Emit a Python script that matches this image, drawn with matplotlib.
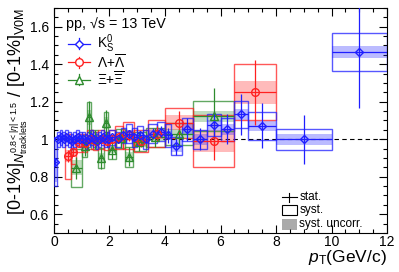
import numpy as np
import matplotlib
matplotlib.use("Agg")
import matplotlib.pyplot as plt
from matplotlib.patches import Rectangle
from matplotlib.ticker import MultipleLocator, FormatStrFormatter

plt.rcParams['font.family'] = ['Liberation Sans', 'DejaVu Sans']
plt.rcParams['mathtext.fontset'] = 'custom'
plt.rcParams['mathtext.rm'] = 'Liberation Sans'
plt.rcParams['mathtext.it'] = 'Liberation Sans:italic'
plt.rcParams['mathtext.bf'] = 'Liberation Sans:bold'

# K0S: bin edges, ratio, stat, syst, uncorrelated syst
k0s_edges = [0.0, 0.1, 0.2, 0.3, 0.4, 0.5, 0.6, 0.7, 0.8, 0.9, 1.0, 1.1, 1.2, 1.3,
             1.4, 1.5, 1.6, 1.7, 1.8, 1.9, 2.0, 2.2, 2.4, 2.6, 2.8, 3.0, 3.2, 3.4,
             3.7, 4.0, 4.2, 4.6, 5.0, 5.5, 6.0, 6.5, 7.0, 8.0, 10.0, 12.0]
k0s_val = [0.88, 1.00, 1.01, 1.00, 1.01, 1.00, 0.99, 1.00, 1.01, 1.00,
           1.00, 0.99, 1.00, 1.01, 1.00, 0.99, 1.00, 1.01, 1.00, 1.00,
           1.01, 1.00, 1.02, 1.03, 1.01, 1.02, 1.00, 1.03, 1.04, 1.02,
           0.964, 1.052, 1.00, 1.075, 1.053, 1.133, 1.071, 1.00, 1.466]
k0s_stat = [0.02, 0.01, 0.01, 0.01, 0.01, 0.01, 0.01, 0.01, 0.01, 0.01,
            0.01, 0.01, 0.01, 0.01, 0.01, 0.01, 0.01, 0.01, 0.01, 0.01,
            0.01, 0.01, 0.02, 0.02, 0.02, 0.02, 0.02, 0.03, 0.03, 0.04,
            0.05, 0.06, 0.06, 0.07, 0.08, 0.11, 0.12, 0.13, 0.30]
k0s_syst = [0.13, 0.04, 0.04, 0.04, 0.04, 0.04, 0.04, 0.04, 0.04, 0.04,
            0.04, 0.04, 0.04, 0.04, 0.04, 0.04, 0.04, 0.04, 0.04, 0.04,
            0.04, 0.04, 0.04, 0.05, 0.05, 0.05, 0.05, 0.05, 0.05, 0.06,
            0.05, 0.06, 0.05, 0.06, 0.06, 0.073, 0.075, 0.057, 0.10]
k0s_unc = [0.11, 0.015, 0.015, 0.015, 0.015, 0.015, 0.015, 0.015, 0.015, 0.015,
           0.015, 0.015, 0.015, 0.015, 0.015, 0.015, 0.015, 0.015, 0.015, 0.015,
           0.015, 0.015, 0.02, 0.02, 0.02, 0.02, 0.02, 0.02, 0.02, 0.025,
           0.03, 0.03, 0.03, 0.03, 0.03, 0.03, 0.027, 0.03, 0.033]

# Lambda + anti-Lambda
lam_edges = [0.4, 0.6, 0.8, 1.0, 1.2, 1.4, 1.6, 1.8, 2.0, 2.2, 2.5, 2.9, 3.4, 4.0, 5.0, 6.5, 8.0]
lam_val = [0.91, 0.93, 0.98, 0.98, 1.00, 0.99, 1.00, 0.99, 1.00, 1.01, 1.02, 0.99, 1.03, 1.089, 0.99, 1.25]
lam_stat = [0.03, 0.02, 0.02, 0.02, 0.02, 0.02, 0.02, 0.02, 0.02, 0.03, 0.03, 0.03, 0.04, 0.06, 0.10, 0.175]
lam_syst = [0.12, 0.06, 0.05, 0.05, 0.05, 0.05, 0.05, 0.05, 0.05, 0.06, 0.07, 0.06, 0.07, 0.08, 0.14, 0.15]
lam_unc = [0.03, 0.02, 0.02, 0.02, 0.02, 0.02, 0.02, 0.02, 0.02, 0.02, 0.03, 0.03, 0.03, 0.04, 0.058, 0.06]

# Xi + anti-Xi
xi_edges = [0.6, 1.0, 1.2, 1.35, 1.6, 1.8, 1.95, 2.25, 2.55, 2.85, 3.3, 4.0, 5.0, 6.5]
xi_val = [0.847, 0.963, 1.116, 1.00, 0.90, 1.087, 0.945, 1.005, 0.906, 0.986, 1.01, 1.027, 1.123]
xi_stat = [0.06, 0.05, 0.09, 0.05, 0.06, 0.07, 0.05, 0.05, 0.05, 0.05, 0.05, 0.06, 0.15]
xi_syst = [0.10, 0.06, 0.08, 0.05, 0.055, 0.06, 0.05, 0.05, 0.055, 0.05, 0.05, 0.06, 0.08]
xi_unc = [0.04, 0.03, 0.04, 0.02, 0.025, 0.03, 0.02, 0.02, 0.025, 0.02, 0.02, 0.025, 0.03]

species = [
    ("xi", xi_edges, xi_val, xi_stat, xi_syst, xi_unc, '#2e8b2e', '^'),
    ("lam", lam_edges, lam_val, lam_stat, lam_syst, lam_unc, '#ff2020', 'o'),
    ("k0s", k0s_edges, k0s_val, k0s_stat, k0s_syst, k0s_unc, '#1f1fff', 'D'),
]
labels = {"k0s": r'$\mathrm{K^0_S}$',
          "lam": r'$\Lambda$+$\overline{\Lambda}$',
          "xi": r'$\Xi$+$\overline{\Xi}$'}

fig = plt.figure(figsize=(3.99, 2.72), dpi=100)
ax = fig.add_axes([0.1353, 0.1434, 0.8347, 0.8272])

ax.axhline(1.0, color='black', linestyle=(0, (4, 3)), linewidth=0.8, zorder=1)

styles = {}
for name, edges, val, stat, syst, unc, col, mk in species:
    edges = np.array(edges)
    val = np.array(val)
    x = 0.5 * (edges[1:] + edges[:-1])
    w = np.diff(edges)
    syst = np.array(syst)
    unc = np.array(unc)
    ax.bar(x, 2 * unc, bottom=val - unc, width=w, color=col, alpha=0.3,
           linewidth=0, zorder=2)
    ax.bar(x, 2 * syst, bottom=val - syst, width=w, fill=False, edgecolor=col,
           alpha=0.75, linewidth=1.0, zorder=3)
    ms = 4.5 if mk == 'D' else 5.5
    ax.errorbar(x, val, yerr=stat, xerr=w / 2, fmt=mk, color=col, mfc='none',
                mec=col, ms=ms, mew=1.0, elinewidth=0.9, capsize=0, zorder=4)
    styles[name] = (col, mk, ms)

ax.set_xlim(0, 12)
ax.set_ylim(0.5, 1.7)
ax.xaxis.set_major_locator(MultipleLocator(2))
ax.xaxis.set_minor_locator(MultipleLocator(0.5))
ax.yaxis.set_major_locator(MultipleLocator(0.2))
ax.yaxis.set_minor_locator(MultipleLocator(0.05))
ax.yaxis.set_major_formatter(FormatStrFormatter('%g'))
ax.tick_params(which='both', direction='in', top=True, right=True, labelsize=10, width=0.8)
ax.tick_params(which='major', length=6)
ax.tick_params(which='minor', length=3)
ax.tick_params(axis='x', pad=1.5)

ax.set_xlabel(r'$p_{\mathrm{T}}$(GeV/c)', fontsize=12.5, loc='right', labelpad=-1)
ax.set_ylabel(r'[0-1%]$_{N_{\mathrm{tracklets}}^{0.8<|\eta|<1.5}}$ / [0-1%]$_{\mathrm{V0M}}$',
              fontsize=13, loc='top', labelpad=0)

ax.text(0.035, 0.93, 'pp, \u221as = 13 TeV', transform=ax.transAxes, fontsize=10.3,
        va='center', ha='left')

# species legend, drawn in axes coordinates
for name, ypos in zip(["k0s", "lam", "xi"], [0.842, 0.758, 0.682]):
    col, mk, ms = styles[name]
    ax.plot([0.042, 0.108], [ypos, ypos], color=col, lw=0.9, transform=ax.transAxes)
    ax.plot([0.075, 0.075], [ypos - 0.024, ypos + 0.024], color=col, lw=0.9,
            transform=ax.transAxes)
    ax.plot([0.075], [ypos], marker=mk, mfc='white', mec=col, ms=ms, mew=1.0,
            transform=ax.transAxes)
    ax.text(0.129, ypos, labels[name], transform=ax.transAxes, fontsize=9.8,
            va='center', ha='left')

# uncertainty legend
ax.plot([0.684, 0.729], [0.159, 0.159], color='black', lw=0.8, transform=ax.transAxes)
ax.plot([0.7065, 0.7065], [0.139, 0.179], color='black', lw=0.8, transform=ax.transAxes)
ax.add_patch(Rectangle((0.684, 0.079), 0.045, 0.044, facecolor='white', edgecolor='black',
                       lw=0.8, transform=ax.transAxes))
ax.add_patch(Rectangle((0.684, 0.015), 0.045, 0.045, facecolor='#aaaaaa', edgecolor='none',
                       transform=ax.transAxes))
for txt, ypos in zip(['stat.', 'syst.', 'syst. uncorr.'], [0.159, 0.101, 0.039]):
    ax.text(0.737, ypos, txt, transform=ax.transAxes, fontsize=8.5, va='center', ha='left')

fig.savefig('out.png', dpi=100)
